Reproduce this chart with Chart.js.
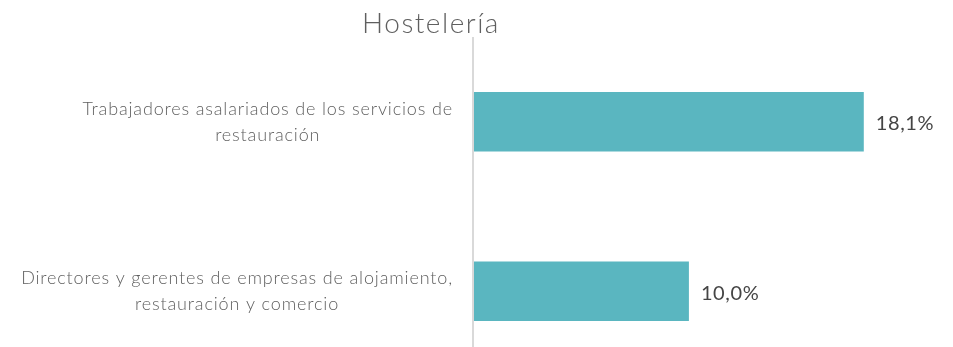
<!DOCTYPE html>
<html lang="es">
<head>
<meta charset="utf-8">
<script src="https://cdn.jsdelivr.net/npm/chart.js@4/dist/chart.umd.min.js"></script>
<style>
    html, body { margin: 0; padding: 0; background: #fff; overflow: hidden; }
    #wrap { width: 953px; height: 376px; }
</style>
</head>
<body>
<div id="wrap"><canvas id="hosteleriaChart"></canvas></div>
<script>
const chartTitle = 'Hostelería';
const categories = [
    ['Trabajadores asalariados de los servicios de', 'restauración'],
    ['Directores y gerentes de empresas de alojamiento,', 'restauración y comercio']
];
const values = [18.1, 10.0];
const valueLabels = ['18,1%', '10,0%'];

document.addEventListener('DOMContentLoaded', () => {

    // Etiquetas de categoría, título y valores
    const labelsPlugin = {
        id: 'labelsPlugin',
        afterDraw(chart) {
            const ctx = chart.ctx;
            const yScale = chart.scales.y;
            const area = chart.chartArea;
            const meta = chart.getDatasetMeta(0);
            ctx.save();

            // título
            ctx.fillStyle = '#5f5f5f';
            ctx.font = '300 28px Lato';
            ctx.letterSpacing = '1.5px';
            ctx.textAlign = 'center';
            ctx.textBaseline = 'alphabetic';
            ctx.fillText(chartTitle, 431, 33);

            // categorías (cada una centrada sobre su línea más larga)
            ctx.font = '300 18px Lato';
            ctx.letterSpacing = '0.85px';
            ctx.fillStyle = '#5f5f5f';
            ctx.textBaseline = 'middle';
            const lineH = 26;
            categories.forEach((lines, i) => {
                const yc = yScale.getPixelForValue(i);
                const w = Math.max(...lines.map(l => ctx.measureText(l).width));
                const xc = area.left - 20 - w / 2;
                lines.forEach((l, j) => {
                    const y = yc + (j - (lines.length - 1) / 2) * lineH;
                    ctx.fillText(l, xc, y);
                });
            });

            // valores al final de cada barra
            ctx.font = '400 20px Lato';
            ctx.letterSpacing = '0.6px';
            ctx.fillStyle = '#454545';
            ctx.textAlign = 'left';
            meta.data.forEach((bar, i) => {
                ctx.fillText(valueLabels[i], bar.x + 12, bar.y + 2);
            });
            ctx.restore();
        }
    };

    const ctx1 = document.getElementById('hosteleriaChart').getContext('2d');
    const hosteleriaChart = new Chart(ctx1, {
        type: 'bar',
        data: {
            labels: categories,
            datasets: [{
                data: values,
                backgroundColor: '#5ab6c0',
                categoryPercentage: 0.7,
                barPercentage: 0.5
            }]
        },
        options: {
            indexAxis: 'y',
            responsive: true,
            maintainAspectRatio: false,
            animation: false,
            layout: { padding: { top: 37, left: 473, right: 5, bottom: 0 } },
            plugins: {
                legend: { display: false },
                tooltip: { enabled: false }
            },
            scales: {
                x: {
                    min: 0,
                    max: 22,
                    ticks: { display: false },
                    border: { display: false },
                    grid: {
                        drawTicks: false,
                        lineWidth: 2,
                        color: c => (c.tick && c.tick.value === 0) ? '#d9d9d9' : 'rgba(0,0,0,0)'
                    }
                },
                y: {
                    display: false
                }
            }
        },
        plugins: [labelsPlugin]
    });
});
</script>
</body>
</html>
